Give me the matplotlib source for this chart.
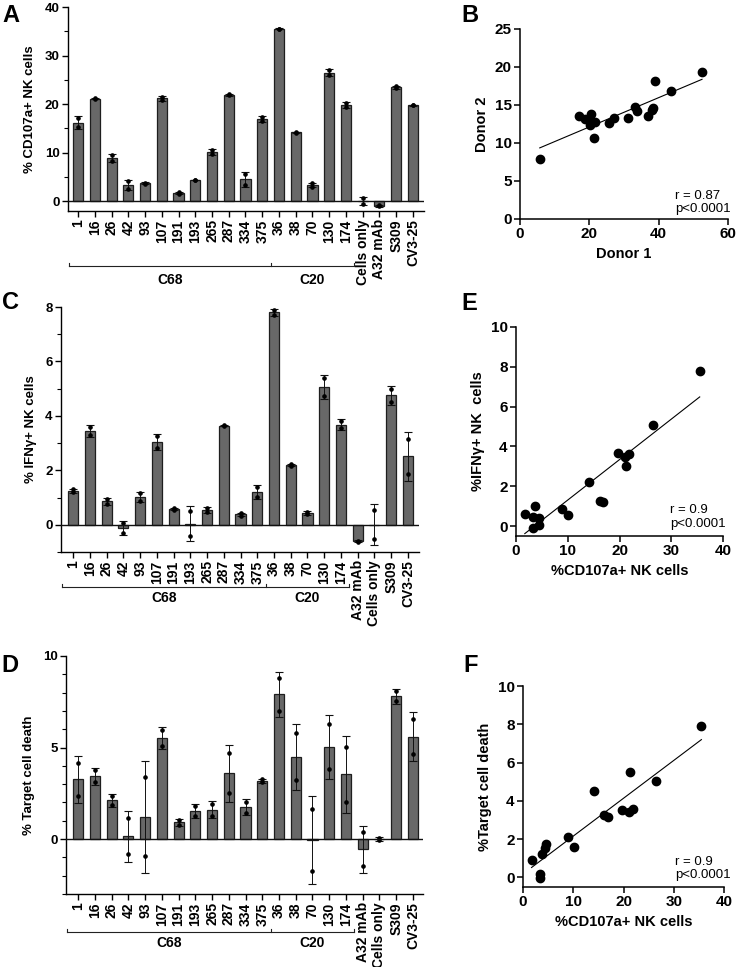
import numpy as np
import matplotlib
matplotlib.use("Agg")
import matplotlib.pyplot as plt
from matplotlib.ticker import MultipleLocator
from matplotlib.transforms import blended_transform_factory

plt.rcParams['font.family'] = ['Liberation Sans', 'DejaVu Sans']
plt.rcParams['font.weight'] = 'bold'

# ---------------- data ----------------
ab_labels = ['1', '16', '26', '42', '93', '107', '191', '193', '265', '287', '334', '375',
             '36', '38', '70', '130', '174']
labels_A = ab_labels + ['Cells only', 'A32 mAb', 'S309', 'CV3-25']
labels_CD = ab_labels + ['A32 mAb', 'Cells only', 'S309', 'CV3-25']

# Panel A: %CD107a+ NK cells, two replicates per condition
cd107_rep1 = [17.12, 21.20, 9.47, 4.13, 3.86, 21.55, 1.84, 4.44, 10.52, 22.00, 5.56, 17.32,
              35.57, 14.27, 3.67, 27.00, 20.22, 0.69, -0.76, 23.71, 19.87]
cd107_rep2 = [15.28, 21.00, 8.33, 2.57, 3.64, 20.85, 1.56, 4.36, 9.68, 21.80, 3.44, 16.48,
              35.43, 14.13, 3.03, 26.00, 19.38, -0.59, -1.04, 23.29, 19.73]

# Panel C: %IFNg+ NK cells
ifng_rep1 = [1.30, 3.60, 0.96, 0.07, 1.16, 3.25, 0.62, 0.50, 0.62, 3.66, 0.43, 1.38,
             7.88, 2.22, 0.48, 5.38, 3.82, -0.58, 0.53, 5.00, 3.14]
ifng_rep2 = [1.20, 3.30, 0.78, -0.29, 0.88, 2.83, 0.56, -0.42, 0.48, 3.62, 0.33, 1.02,
             7.72, 2.16, 0.38, 4.74, 3.54, -0.62, -0.51, 4.50, 1.88]

# Panel D: % target cell death
death_rep1 = [4.18, 3.75, 2.37, 1.15, 3.38, 5.94, 1.04, 1.82, 1.92, 4.69, 2.04, 3.26,
              8.78, 5.77, 1.65, 6.29, 5.03, 0.36, 0.07, 8.08, 6.55]
death_rep2 = [2.36, 3.11, 1.87, -0.83, -0.94, 5.10, 0.78, 1.26, 1.28, 2.49, 1.44, 3.10,
              7.02, 3.23, -1.75, 3.81, 2.05, -1.48, -0.07, 7.52, 4.65]

# Panel B: donor comparison
donor1 = [5.7, 17.0, 18.7, 20.4, 20.3, 20.9, 21.6, 21.4, 25.8, 27.1, 31.1, 33.2, 33.8,
          36.8, 38.0, 38.3, 38.8, 43.5, 52.5]
donor2 = [7.85, 13.6, 13.2, 13.8, 12.4, 12.7, 12.7, 10.7, 12.6, 13.3, 13.3, 14.7, 14.2,
          13.6, 14.4, 14.6, 18.2, 16.8, 19.3]

stats_B = 'r = 0.87\np<0.0001'
stats_E = 'r = 0.9\np<0.0001'
stats_F = 'r = 0.9\np<0.0001'

# ---------------- layout helpers ----------------
W, H = 736, 967
fig = plt.figure(figsize=(W / 100, H / 100), dpi=100)


def rect(l, t, r, b):
    return [l / W, 1 - b / H, (r - l) / W, (b - t) / H]


def fy(y):
    return 1 - y / H


BAR_COLOR = '#686868'
TICK_FS = 10


def bar_panel(ax, labels, r1, r2, ylim, major, minor, ylabel, xlim, brk_y, grp_y):
    reps = np.vstack([r1, r2])
    means = reps.mean(axis=0)
    sd = reps.std(axis=0, ddof=1)
    x = np.arange(len(labels))
    ax.bar(x, means, width=0.6, color=BAR_COLOR, edgecolor='#1e1e1e', linewidth=0.9, zorder=2)
    ax.errorbar(x, means, yerr=sd, fmt='none', ecolor='#111111', elinewidth=0.7,
                capsize=3, capthick=0.8, zorder=3)
    ax.plot(np.concatenate([x, x]), np.concatenate([r1, r2]), 'o', ms=2.3,
            color='black', zorder=4, linestyle='none')
    ax.axhline(0, color='#111111', lw=1.0, zorder=5)
    ax.set_xlim(*xlim)
    ax.set_ylim(*ylim)
    ax.yaxis.set_major_locator(MultipleLocator(major))
    ax.yaxis.set_minor_locator(MultipleLocator(minor))
    ax.set_xticks(x)
    ax.set_xticklabels(labels, rotation=90, fontsize=TICK_FS, fontweight='bold')
    for s in ['top', 'right']:
        ax.spines[s].set_visible(False)
    for s in ['left', 'bottom']:
        ax.spines[s].set_linewidth(1.0)
    ax.tick_params(axis='y', which='major', length=4, width=1.0, labelsize=9.5, pad=2)
    ax.tick_params(axis='y', which='minor', length=3, width=0.8)
    ax.tick_params(axis='x', length=4, width=1.0, pad=2)
    for t in ax.get_yticklabels():
        t.set_fontweight('bold')
    ax.set_ylabel(ylabel, fontsize=9.5, fontweight='bold', labelpad=6)
    # group brackets
    tr = blended_transform_factory(ax.transData, fig.transFigure)
    yb = fy(brk_y)
    tk = 3 / H
    x0, xj, x1 = xlim[0] + 0.05, 11.5, 16.5
    ax.plot([x0, x1], [yb, yb], color='#222222', lw=0.8, transform=tr, clip_on=False)
    for xx in (x0, xj, x1):
        ax.plot([xx, xx], [yb, yb + tk], color='#222222', lw=0.8, transform=tr, clip_on=False)
    ax.text((x0 + xj) / 2, fy(grp_y), 'C68', transform=tr, ha='center', va='center',
            fontsize=10, fontweight='bold')
    ax.text((xj + x1) / 2, fy(grp_y), 'C20', transform=tr, ha='center', va='center',
            fontsize=10, fontweight='bold')
    return means


def scatter_panel(ax, xv, yv, xlim, ylim, xmaj, ymaj, xlabel, ylabel, stats, sx, sy):
    xv = np.asarray(xv)
    yv = np.asarray(yv)
    ax.plot(xv, yv, 'o', color='black', ms=6.0, linestyle='none', zorder=3, clip_on=False)
    k, b = np.polyfit(xv, yv, 1)
    xx = np.array([xv.min(), xv.max()])
    ax.plot(xx, k * xx + b, color='black', lw=0.8, zorder=2)
    ax.set_xlim(*xlim)
    ax.set_ylim(*ylim)
    ax.xaxis.set_major_locator(MultipleLocator(xmaj))
    ax.yaxis.set_major_locator(MultipleLocator(ymaj))
    for s in ['top', 'right']:
        ax.spines[s].set_visible(False)
    for s in ['left', 'bottom']:
        ax.spines[s].set_linewidth(1.1)
    ax.tick_params(length=4, width=1.1, labelsize=11, pad=2)
    for t in ax.get_xticklabels() + ax.get_yticklabels():
        t.set_fontweight('bold')
    ax.set_xlabel(xlabel, fontsize=10.5, fontweight='bold', labelpad=4)
    ax.set_ylabel(ylabel, fontsize=10.5, fontweight='bold', labelpad=4)
    ax.text(sx, sy, stats, transform=ax.transAxes, ha='left', va='bottom',
            fontsize=9.5, fontweight='normal', linespacing=1.15)


# ---------------- bar panels ----------------
axA = fig.add_axes(rect(68, 7, 424, 211))
meanA = bar_panel(axA, labels_A, cd107_rep1, cd107_rep2, (-2, 40), 10, 5,
                  '% CD107a+ NK cells', (-0.6, 20.66), 266, 280)

axC = fig.add_axes(rect(61, 307, 419, 552))
meanC = bar_panel(axC, labels_CD, ifng_rep1, ifng_rep2, (-1, 8), 2, 1,
                  '% IFNγ+ NK cells', (-0.72, 20.66), 587, 598)

axD = fig.add_axes(rect(66, 656, 423, 894))
meanD = bar_panel(axD, labels_CD, death_rep1, death_rep2, (-3, 10), 5, 1,
                  '% Target cell death', (-0.72, 20.6), 932, 943)

# ---------------- scatter panels ----------------
n_ab = len(ab_labels)
axB = fig.add_axes(rect(520, 29, 728, 219))
scatter_panel(axB, donor1, donor2, (0, 60), (0, 25), 20, 5, 'Donor 1', 'Donor 2',
              stats_B, 0.745, 0.02)

axE = fig.add_axes(rect(516, 327, 723, 536))
scatter_panel(axE, meanA[:n_ab], meanC[:n_ab], (0, 40), (-0.5, 10), 10, 2,
              '%CD107a+ NK cells', '%IFNγ+ NK  cells', stats_E, 0.745, 0.03)

axF = fig.add_axes(rect(523, 686, 724, 887))
scatter_panel(axF, meanA[:n_ab], meanD[:n_ab], (0, 40), (-0.5, 10), 10, 2,
              '%CD107a+ NK cells', '%Target cell death', stats_F, 0.755, 0.03)

# ---------------- panel letters ----------------
for letter, x, y in [('A', 2, 4), ('B', 461, 4), ('C', 2, 291), ('E', 461, 292),
                     ('D', 1, 654), ('F', 463, 654)]:
    fig.text(x / W, fy(y), letter, fontsize=17, fontweight='bold', ha='left', va='top')

fig.savefig('out.png', dpi=100)
